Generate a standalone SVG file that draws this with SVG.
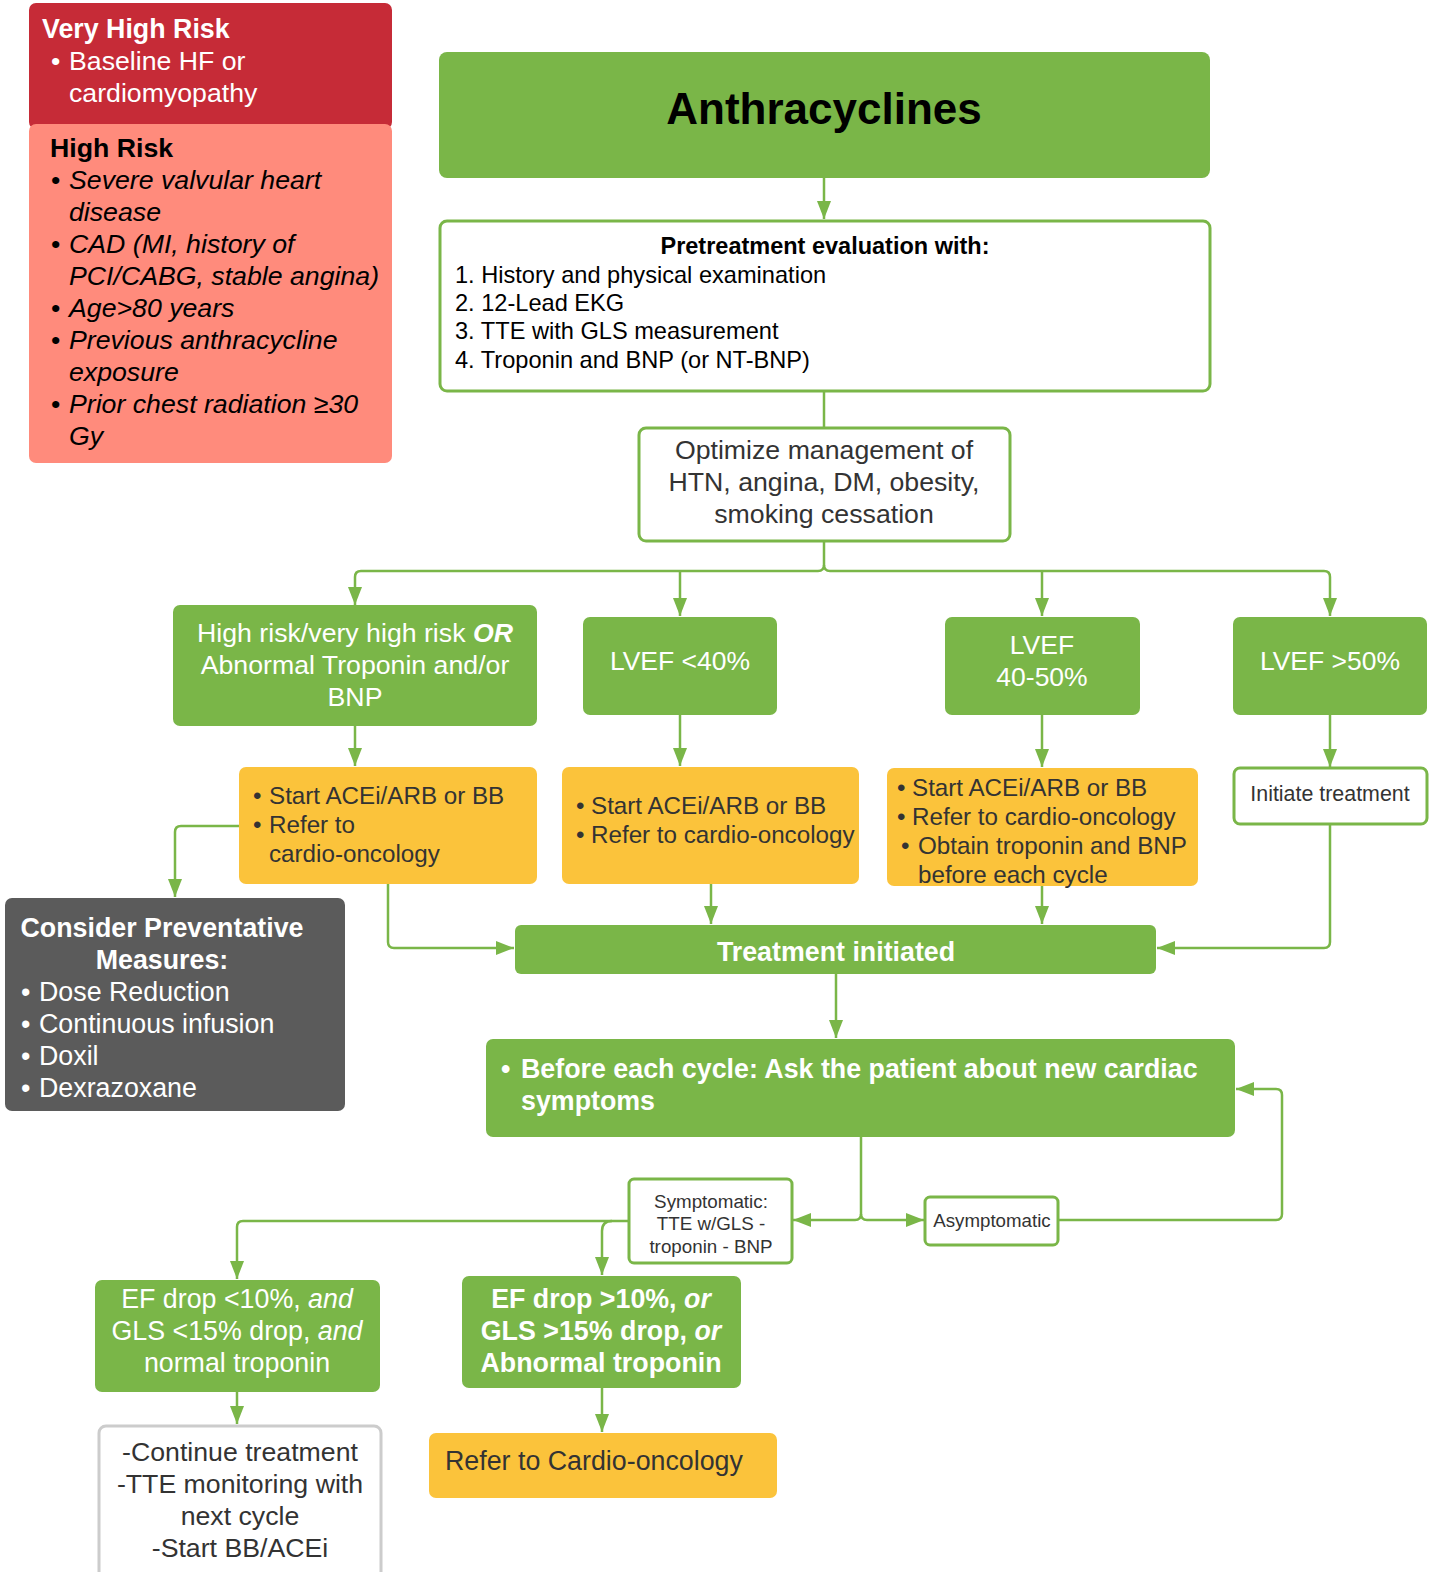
<svg xmlns="http://www.w3.org/2000/svg" width="1441" height="1572" viewBox="0 0 1441 1572">
  <style>
    text { font-family: "Liberation Sans", Arial, sans-serif; }
    .g { fill: #7AB648; }
    .o { fill: #FBC33B; }
    .wb { fill: #FFFFFF; stroke: #7AB648; stroke-width: 3; }
    .conn { fill: none; stroke: #7AB648; stroke-width: 2.5; }
    .wt { fill: #FFFFFF; }
    .dk { fill: #333333; }
    .bk { fill: #000000; }
    .c { text-anchor: middle; }
    .b { font-weight: bold; }
    .i { font-style: italic; }
  </style>
  <defs>
    <marker id="arrow" markerUnits="userSpaceOnUse" markerWidth="18" markerHeight="14" refX="18" refY="7" orient="auto">
      <path d="M0,0 L18,7 L0,14 z" fill="#7AB648"/>
    </marker>
  </defs>
  <rect width="1441" height="1572" fill="#FFFFFF"/>

  <!-- risk legend -->
  <g id="very-high-risk">
    <rect x="29" y="3" width="363" height="126" rx="7" fill="#C62B37"/>
    <text x="42" y="38" font-size="26.8" class="wt b">Very High Risk</text>
    <text x="51" y="70" font-size="26.7" class="wt">•</text>
    <text x="69" y="70" font-size="26.7" class="wt">Baseline HF or</text>
    <text x="69" y="102" font-size="26.7" class="wt">cardiomyopathy</text>
  </g>
  <g id="high-risk">
    <rect x="29" y="124" width="363" height="339" rx="7" fill="#FF8B7C"/>
    <text x="50" y="157" font-size="26.7" class="bk b">High Risk</text>
    <g font-size="26.7" class="bk">
      <text x="51" y="189">•</text><text x="69" y="189" class="i">Severe valvular heart</text>
      <text x="69" y="221" class="i">disease</text>
      <text x="51" y="253">•</text><text x="69" y="253" class="i">CAD (MI, history of</text>
      <text x="69" y="285" class="i">PCI/CABG, stable angina)</text>
      <text x="51" y="317">•</text><text x="69" y="317" class="i">Age&gt;80 years</text>
      <text x="51" y="349">•</text><text x="69" y="349" class="i">Previous anthracycline</text>
      <text x="69" y="381" class="i">exposure</text>
      <text x="51" y="413">•</text><text x="69" y="413" class="i">Prior chest radiation ≥30</text>
      <text x="69" y="445" class="i">Gy</text>
    </g>
  </g>

  <!-- connectors -->
  <g id="connectors" class="conn">
    <path d="M824,178 V219" marker-end="url(#arrow)"/>
    <path d="M824,391 V428"/>
    <path d="M824,541 V565 Q824,571 818,571 H361 Q355,571 355,577 V605" marker-end="url(#arrow)"/>
    <path d="M824,565 Q824,571 830,571 H1324 Q1330,571 1330,577 V616" marker-end="url(#arrow)"/>
    <path d="M680,571 V616" marker-end="url(#arrow)"/>
    <path d="M1042,571 V616" marker-end="url(#arrow)"/>
    <path d="M355,726 V766" marker-end="url(#arrow)"/>
    <path d="M680,715 V766" marker-end="url(#arrow)"/>
    <path d="M1042,715 V767" marker-end="url(#arrow)"/>
    <path d="M1330,715 V767" marker-end="url(#arrow)"/>
    <path d="M239,826 H181 Q175,826 175,832 V897" marker-end="url(#arrow)"/>
    <path d="M388,884 V942 Q388,948 394,948 H514" marker-end="url(#arrow)"/>
    <path d="M711,884 V924" marker-end="url(#arrow)"/>
    <path d="M1042,886 V924" marker-end="url(#arrow)"/>
    <path d="M1330,824 V942 Q1330,948 1324,948 H1157" marker-end="url(#arrow)"/>
    <path d="M836,974 V1038" marker-end="url(#arrow)"/>
    <path d="M861,1137 V1214 Q861,1220 855,1220 H793" marker-end="url(#arrow)"/>
    <path d="M861,1214 Q861,1220 867,1220 H924" marker-end="url(#arrow)"/>
    <path d="M1058,1220 H1276 Q1282,1220 1282,1214 V1095 Q1282,1089 1276,1089 H1236" marker-end="url(#arrow)"/>
    <path d="M629,1221 H243 Q237,1221 237,1227 V1279" marker-end="url(#arrow)"/>
    <path d="M612,1221 Q602,1221 602,1231 V1275" marker-end="url(#arrow)"/>
    <path d="M237,1392 V1424" marker-end="url(#arrow)"/>
    <path d="M602,1388 V1432" marker-end="url(#arrow)"/>
  </g>

  <g id="anthracyclines">
    <rect x="439" y="52" width="771" height="126" rx="8" class="g"/>
    <text x="824" y="124" font-size="44" class="bk b c">Anthracyclines</text>
  </g>

  <g id="pretreatment">
    <rect x="440" y="221" width="770" height="170" rx="7" class="wb"/>
    <text x="825" y="254" font-size="23.5" class="bk b c">Pretreatment evaluation with:</text>
    <g font-size="23.6" class="bk">
      <text x="455" y="283">1. History and physical examination</text>
      <text x="455" y="311">2. 12-Lead EKG</text>
      <text x="455" y="339">3. TTE with GLS measurement</text>
      <text x="455" y="368">4. Troponin and BNP (or NT-BNP)</text>
    </g>
  </g>

  <g id="optimize">
    <rect x="639" y="428" width="371" height="113" rx="7" class="wb"/>
    <g font-size="26.7" class="dk c">
      <text x="824" y="459">Optimize management of</text>
      <text x="824" y="491">HTN, angina, DM, obesity,</text>
      <text x="824" y="523">smoking cessation</text>
    </g>
  </g>

  <g id="high-risk-branch">
    <rect x="173" y="605" width="364" height="121" rx="7" class="g"/>
    <g font-size="26.7" class="wt c">
      <text x="355" y="642">High risk/very high risk <tspan class="b i">OR</tspan></text>
      <text x="355" y="674">Abnormal Troponin and/or</text>
      <text x="355" y="706">BNP</text>
    </g>
  </g>

  <g id="lvef-lt-40">
    <rect x="583" y="617" width="194" height="98" rx="7" class="g"/>
    <text x="680" y="670" font-size="26.5" class="wt c">LVEF &lt;40%</text>
  </g>

  <g id="lvef-40-50">
    <rect x="945" y="617" width="195" height="98" rx="7" class="g"/>
    <text x="1042" y="654" font-size="26.5" class="wt c">LVEF</text>
    <text x="1042" y="686" font-size="26.5" class="wt c">40-50%</text>
  </g>

  <g id="lvef-gt-50">
    <rect x="1233" y="617" width="194" height="98" rx="7" class="g"/>
    <text x="1330" y="670" font-size="26.5" class="wt c">LVEF &gt;50%</text>
  </g>

  <g id="action-high-risk">
    <rect x="239" y="767" width="298" height="117" rx="7" class="o"/>
    <g font-size="24.2" class="dk">
      <text x="253" y="804">•</text><text x="269" y="804">Start ACEi/ARB or BB</text>
      <text x="253" y="833">•</text><text x="269" y="833">Refer to</text>
      <text x="269" y="862">cardio-oncology</text>
    </g>
  </g>

  <g id="action-lvef-lt-40">
    <rect x="562" y="767" width="297" height="117" rx="7" class="o"/>
    <g font-size="24.2" class="dk">
      <text x="576" y="814">•</text><text x="591" y="814">Start ACEi/ARB or BB</text>
      <text x="576" y="843">•</text><text x="591" y="843">Refer to cardio-oncology</text>
    </g>
  </g>

  <g id="action-lvef-40-50">
    <rect x="887" y="768" width="311" height="118" rx="7" class="o"/>
    <g font-size="24.2" class="dk">
      <text x="897" y="796">•</text><text x="912" y="796">Start ACEi/ARB or BB</text>
      <text x="897" y="825">•</text><text x="912" y="825">Refer to cardio-oncology</text>
      <text x="901" y="854">•</text><text x="918" y="854">Obtain troponin and BNP</text>
      <text x="918" y="883">before each cycle</text>
    </g>
  </g>

  <g id="initiate-treatment">
    <rect x="1234" y="768" width="193" height="56" rx="6" class="wb"/>
    <text x="1330" y="801" font-size="21.4" class="dk c">Initiate treatment</text>
  </g>

  <g id="preventative">
    <rect x="5" y="898" width="340" height="213" rx="7" fill="#5B5B5B"/>
    <g font-size="26.8" class="wt">
      <text x="162" y="937" class="b c">Consider Preventative</text>
      <text x="162" y="969" class="b c">Measures:</text>
      <text x="21" y="1001">•</text><text x="39" y="1001">Dose Reduction</text>
      <text x="21" y="1033">•</text><text x="39" y="1033">Continuous infusion</text>
      <text x="21" y="1065">•</text><text x="39" y="1065">Doxil</text>
      <text x="21" y="1097">•</text><text x="39" y="1097">Dexrazoxane</text>
    </g>
  </g>

  <g id="treatment-initiated">
    <rect x="515" y="925" width="641" height="49" rx="6" class="g"/>
    <text x="836" y="961" font-size="26.8" class="wt b c">Treatment initiated</text>
  </g>

  <g id="before-each-cycle">
    <rect x="486" y="1039" width="749" height="98" rx="7" class="g"/>
    <g font-size="26.8" class="wt b">
      <text x="501" y="1078">•</text><text x="521" y="1078">Before each cycle: Ask the patient about new cardiac</text>
      <text x="521" y="1110">symptoms</text>
    </g>
  </g>

  <g id="symptomatic">
    <rect x="629" y="1179" width="163" height="84" rx="5" class="wb"/>
    <g font-size="18.8" class="dk c">
      <text x="711" y="1208">Symptomatic:</text>
      <text x="711" y="1230">TTE w/GLS -</text>
      <text x="711" y="1253">troponin - BNP</text>
    </g>
  </g>

  <g id="asymptomatic">
    <rect x="925" y="1197" width="133" height="48" rx="5" class="wb"/>
    <text x="992" y="1227" font-size="18.7" class="dk c">Asymptomatic</text>
  </g>

  <g id="ef-drop-minor">
    <rect x="95" y="1280" width="285" height="112" rx="7" class="g"/>
    <g font-size="26.8" class="wt c">
      <text x="237" y="1308">EF drop &lt;10%, <tspan class="i">and</tspan></text>
      <text x="237" y="1340">GLS &lt;15% drop, <tspan class="i">and</tspan></text>
      <text x="237" y="1372">normal troponin</text>
    </g>
  </g>

  <g id="ef-drop-major">
    <rect x="462" y="1276" width="279" height="112" rx="7" class="g"/>
    <g font-size="26.8" class="wt b c">
      <text x="601" y="1308">EF drop &gt;10%, <tspan class="i">or</tspan></text>
      <text x="601" y="1340">GLS &gt;15% drop, <tspan class="i">or</tspan></text>
      <text x="601" y="1372">Abnormal troponin</text>
    </g>
  </g>

  <g id="continue-treatment">
    <rect x="99" y="1426" width="282" height="160" rx="7" fill="#FFFFFF" stroke="#CCCCCC" stroke-width="3"/>
    <g font-size="26.7" class="dk c">
      <text x="240" y="1461">-Continue treatment</text>
      <text x="240" y="1493">-TTE monitoring with</text>
      <text x="240" y="1525">next cycle</text>
      <text x="240" y="1557">-Start BB/ACEi</text>
    </g>
  </g>

  <g id="refer-cardio-oncology">
    <rect x="429" y="1433" width="348" height="65" rx="7" class="o"/>
    <text x="445" y="1470" font-size="26.8" class="dk">Refer to Cardio-oncology</text>
  </g>
</svg>
